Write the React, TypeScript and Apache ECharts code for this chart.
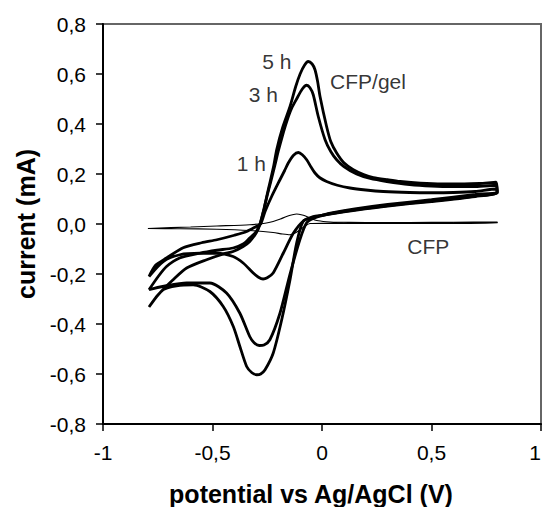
import React, { useEffect, useRef } from "react";
import * as echarts from "echarts";

// Cyclic voltammograms: [potential (V), current (mA)]
const cv1h: [number, number][] = [
  [-0.79, -0.21], [-0.76, -0.165], [-0.71, -0.136], [-0.634, -0.095], [-0.55, -0.075], [-0.48, -0.063],
  [-0.4, -0.045], [-0.344, -0.03], [-0.3, -0.01], [-0.28, 0.0], [-0.26, 0.05], [-0.23, 0.11],
  [-0.192, 0.177], [-0.17, 0.215], [-0.154, 0.244], [-0.13, 0.275], [-0.108, 0.286], [-0.09, 0.277],
  [-0.07, 0.257], [-0.05, 0.228], [-0.032, 0.204], [-0.01, 0.185], [0.021, 0.17], [0.07, 0.155],
  [0.128, 0.144], [0.2, 0.136], [0.28, 0.13], [0.4, 0.126], [0.5, 0.125], [0.6, 0.126], [0.7, 0.13],
  [0.795, 0.14], [0.8, 0.125], [0.7, 0.11], [0.5, 0.09], [0.3, 0.072], [0.15, 0.055], [0.05, 0.042],
  [0.0, 0.035], [-0.04, 0.03], [-0.085, 0.012], [-0.131, -0.037], [-0.177, -0.117], [-0.223, -0.196],
  [-0.25, -0.215], [-0.269, -0.22], [-0.29, -0.213], [-0.314, -0.196], [-0.36, -0.156], [-0.406, -0.13],
  [-0.482, -0.117], [-0.558, -0.117], [-0.649, -0.123], [-0.725, -0.15], [-0.79, -0.21],
];

const cv3h: [number, number][] = [
  [-0.79, -0.263], [-0.748, -0.21], [-0.71, -0.17], [-0.65, -0.136], [-0.558, -0.117], [-0.48, -0.105],
  [-0.406, -0.096], [-0.36, -0.08], [-0.33, -0.056], [-0.3, -0.03], [-0.283, 0.0], [-0.265, 0.06],
  [-0.25, 0.115], [-0.235, 0.165], [-0.215, 0.235], [-0.2, 0.29], [-0.18, 0.355], [-0.161, 0.41],
  [-0.14, 0.46], [-0.116, 0.5], [-0.09, 0.54], [-0.07, 0.555], [-0.055, 0.545], [-0.04, 0.517],
  [-0.017, 0.43], [0.014, 0.337], [0.04, 0.29], [0.067, 0.257], [0.1, 0.23], [0.158, 0.2],
  [0.22, 0.182], [0.296, 0.17], [0.4, 0.158], [0.5, 0.152], [0.6, 0.15], [0.7, 0.15], [0.795, 0.155],
  [0.8, 0.125], [0.7, 0.112], [0.5, 0.092], [0.3, 0.074], [0.15, 0.057], [0.05, 0.043], [0.0, 0.033],
  [-0.04, 0.022], [-0.07, 0.005], [-0.1, -0.06], [-0.146, -0.2], [-0.192, -0.357], [-0.238, -0.463],
  [-0.265, -0.484], [-0.287, -0.486], [-0.31, -0.475], [-0.33, -0.45], [-0.375, -0.357], [-0.436, -0.276],
  [-0.512, -0.236], [-0.618, -0.236], [-0.71, -0.247], [-0.79, -0.263],
];

const cv5h: [number, number][] = [
  [-0.79, -0.332], [-0.748, -0.283], [-0.68, -0.223], [-0.618, -0.176], [-0.527, -0.143], [-0.45, -0.12],
  [-0.406, -0.11], [-0.36, -0.09], [-0.33, -0.07], [-0.3, -0.035], [-0.283, 0.0], [-0.265, 0.06],
  [-0.25, 0.12], [-0.238, 0.165], [-0.22, 0.235], [-0.207, 0.297], [-0.18, 0.385], [-0.146, 0.47],
  [-0.12, 0.55], [-0.1, 0.6], [-0.08, 0.635], [-0.063, 0.65], [-0.045, 0.64], [-0.032, 0.617],
  [-0.02, 0.57], [-0.009, 0.51], [0.021, 0.39], [0.04, 0.33], [0.067, 0.284], [0.1, 0.245],
  [0.143, 0.217], [0.19, 0.198], [0.235, 0.186], [0.3, 0.177], [0.357, 0.17], [0.45, 0.163],
  [0.55, 0.16], [0.65, 0.16], [0.72, 0.162], [0.795, 0.167], [0.8, 0.13], [0.7, 0.118], [0.5, 0.097],
  [0.3, 0.078], [0.15, 0.06], [0.05, 0.045], [0.0, 0.035], [-0.04, 0.025], [-0.085, 0.012],
  [-0.116, -0.077], [-0.146, -0.223], [-0.184, -0.383], [-0.223, -0.517], [-0.26, -0.583], [-0.28, -0.6],
  [-0.298, -0.603], [-0.32, -0.595], [-0.344, -0.57], [-0.375, -0.49], [-0.405, -0.41], [-0.451, -0.33],
  [-0.512, -0.27], [-0.588, -0.243], [-0.664, -0.247], [-0.725, -0.263], [-0.79, -0.332],
];

const cvCFP: [number, number][] = [
  [-0.795, -0.018], [-0.6, -0.012], [-0.48, -0.008], [-0.33, -0.003], [-0.26, 0.003], [-0.223, 0.01],
  [-0.19, 0.02], [-0.162, 0.03], [-0.135, 0.037], [-0.116, 0.04], [-0.09, 0.036], [-0.07, 0.03],
  [-0.045, 0.02], [-0.024, 0.014], [0.02, 0.009], [0.052, 0.007], [0.2, 0.006], [0.4, 0.006],
  [0.6, 0.007], [0.8, 0.008], [0.8, 0.004], [0.4, 0.002], [0.1, 0.002], [0.0, 0.003], [-0.055, 0.002],
  [-0.08, -0.01], [-0.1, -0.023], [-0.125, -0.037], [-0.146, -0.043], [-0.18, -0.04], [-0.223, -0.034],
  [-0.33, -0.026], [-0.48, -0.021], [-0.65, -0.019], [-0.795, -0.018],
];

// annotation texts and their anchor positions (data coords)
const annotationTexts = ["5 h", "3 h", "1 h", "CFP/gel", "CFP"];
const annotationX = [-0.206, -0.268, -0.323, 0.21, 0.485];
const annotationY = [0.65, 0.517, 0.241, 0.57, -0.09];

const xTicks = { min: -1, max: 1, interval: 0.5 };
const yTicks = { min: -0.8, max: 0.8, interval: 0.2 };

const FONT = "'Liberation Sans', Arial, sans-serif";

export default function App() {
  const ref = useRef<HTMLDivElement>(null);
  useEffect(() => {
    document.body.style.margin = "0";
    if (!ref.current) return;
    const chart = echarts.init(ref.current, null, { renderer: "svg" });
    const thick = { color: "#000", width: 2.8 };
    chart.setOption({
      animation: false,
      backgroundColor: "#fff",
      textStyle: { fontFamily: FONT },
      grid: {
        left: 103,
        right: 1,
        top: 24,
        bottom: 83,
        outerBoundsMode: "none",
        containLabel: false,
        show: true,
        borderColor: "#666",
        borderWidth: 2,
        backgroundColor: "transparent",
      },
      xAxis: {
        type: "value",
        min: xTicks.min,
        max: xTicks.max,
        interval: xTicks.interval,
        name: "potential vs Ag/AgCl (V)",
        nameLocation: "middle",
        nameGap: 57,
        nameTextStyle: { fontSize: 25, fontWeight: "bold", color: "#000", fontFamily: FONT, padding: [0, 22, 0, 0] },
        axisLine: { show: true, onZero: false, lineStyle: { color: "#000", width: 2 } },
        axisTick: { show: true, inside: false, length: 7, lineStyle: { color: "#000", width: 1.5 } },
        axisLabel: {
          fontSize: 21,
          color: "#000",
          margin: 18,
          fontFamily: FONT,
          alignMaxLabel: "right",
          formatter: (v: number) => String(Number(v.toFixed(1))).replace(".", ","),
        },
        splitLine: { show: false },
      },
      yAxis: {
        type: "value",
        min: yTicks.min,
        max: yTicks.max,
        interval: yTicks.interval,
        name: "current (mA)",
        nameLocation: "middle",
        nameGap: 60,
        nameTextStyle: { fontSize: 25, fontWeight: "bold", color: "#000", fontFamily: FONT },
        axisLine: { show: true, onZero: false, lineStyle: { color: "#000", width: 2 } },
        axisTick: { show: true, inside: false, length: 7, lineStyle: { color: "#000", width: 1.5 } },
        axisLabel: {
          fontSize: 21,
          color: "#000",
          margin: 17,
          fontFamily: FONT,
          formatter: (v: number) => (Math.abs(v) < 1e-9 ? 0 : v).toFixed(1).replace(".", ","),
        },
        splitLine: { show: false },
      },
      series: [
        { type: "line", name: "1 h", data: cv1h, showSymbol: false, symbol: "none", smooth: 0.25, lineStyle: thick },
        { type: "line", name: "3 h", data: cv3h, showSymbol: false, symbol: "none", smooth: 0.25, lineStyle: thick },
        { type: "line", name: "5 h", data: cv5h, showSymbol: false, symbol: "none", smooth: 0.25, lineStyle: thick },
        {
          type: "line",
          name: "CFP",
          data: cvCFP,
          showSymbol: false,
          symbol: "none",
          smooth: 0.25,
          lineStyle: { color: "#000", width: 1.2 },
        },
        {
          type: "scatter",
          name: "labels",
          symbolSize: 0,
          silent: true,
          data: annotationTexts.map((t, i) => ({ value: [annotationX[i], annotationY[i]], name: t })),
          label: {
            show: true,
            position: "inside",
            formatter: (p: any) => p.name,
            fontSize: 21,
            color: "#000",
            fontFamily: FONT,
          },
        },
      ],
    });
    return () => chart.dispose();
  }, []);
  return <div ref={ref} style={{ width: 542, height: 507 }} />;
}
